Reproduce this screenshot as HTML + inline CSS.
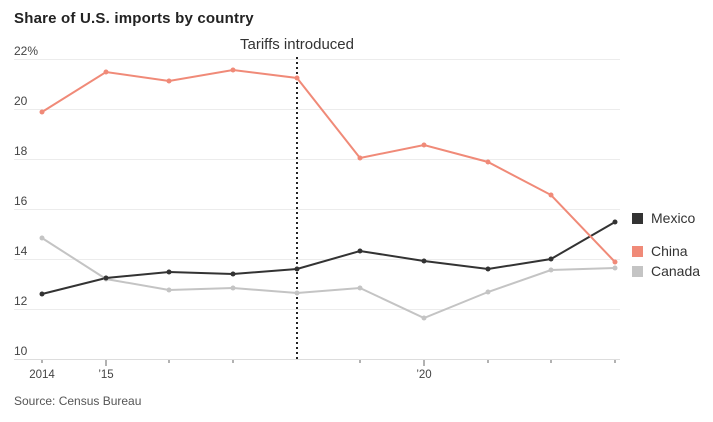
<!DOCTYPE html>
<html><head><style>
body{margin:0;background:#fff;}
svg text{font-family:"Liberation Sans",sans-serif;}
</style></head><body>
<svg width="713" height="417" xmlns="http://www.w3.org/2000/svg">
<text x="14" y="23" font-size="15" font-weight="bold" fill="#222" letter-spacing="0.2">Share of U.S. imports by country</text>
<g stroke="#ececec" stroke-width="1">
<line x1="14" x2="620" y1="59.5" y2="59.5"/>
<line x1="14" x2="620" y1="109.5" y2="109.5"/>
<line x1="14" x2="620" y1="159.5" y2="159.5"/>
<line x1="14" x2="620" y1="209.5" y2="209.5"/>
<line x1="14" x2="620" y1="259.5" y2="259.5"/>
<line x1="14" x2="620" y1="309.5" y2="309.5"/>
</g>
<line x1="14" x2="620" y1="359.5" y2="359.5" stroke="#ddd"/>
<g font-size="12" fill="#444">
<text x="14" y="55">22%</text>
<text x="14" y="105">20</text>
<text x="14" y="155">18</text>
<text x="14" y="205">16</text>
<text x="14" y="255">14</text>
<text x="14" y="305">12</text>
<text x="14" y="355">10</text>
</g>
<g stroke="#666" stroke-width="1">
<line x1="42" x2="42" y1="360" y2="363"/><line x1="106" x2="106" y1="360" y2="366"/>
<line x1="169" x2="169" y1="360" y2="363"/><line x1="233" x2="233" y1="360" y2="363"/>
<line x1="360" x2="360" y1="360" y2="363"/><line x1="424" x2="424" y1="360" y2="366"/>
<line x1="488" x2="488" y1="360" y2="363"/><line x1="551" x2="551" y1="360" y2="363"/>
<line x1="615" x2="615" y1="360" y2="363"/>
</g>
<g font-size="11.5" fill="#444" text-anchor="middle">
<text x="42" y="378">2014</text><text x="106" y="378">’15</text><text x="424" y="378">’20</text>
</g>
<text x="14" y="405" font-size="12" fill="#555">Source: Census Bureau</text>
<line x1="297" x2="297" y1="57" y2="360" stroke="#222" stroke-width="2" stroke-dasharray="2,3"/>
<text x="297" y="49" font-size="15" fill="#333" text-anchor="middle">Tariffs introduced</text>
<polyline fill="none" stroke="#c4c4c4" stroke-width="2" points="42,238 106,279 169,290 233,288 297,293 360,288 424,318 488,292 551,270 615,268"/>
<polyline fill="none" stroke="#333" stroke-width="2" points="42,294 106,278 169,272 233,274 297,269 360,251 424,261 488,269 551,259 615,222"/>
<polyline fill="none" stroke="#f08a78" stroke-width="2" points="42,112 106,72 169,81 233,70 297,78 360,158 424,145 488,162 551,195 615,262"/>
<g fill="#c4c4c4"><circle cx="42" cy="238" r="2.5"/><circle cx="106" cy="279" r="2.5"/><circle cx="169" cy="290" r="2.5"/><circle cx="233" cy="288" r="2.5"/><circle cx="297" cy="293" r="2.5"/><circle cx="360" cy="288" r="2.5"/><circle cx="424" cy="318" r="2.5"/><circle cx="488" cy="292" r="2.5"/><circle cx="551" cy="270" r="2.5"/><circle cx="615" cy="268" r="2.5"/></g>
<g fill="#333"><circle cx="42" cy="294" r="2.5"/><circle cx="106" cy="278" r="2.5"/><circle cx="169" cy="272" r="2.5"/><circle cx="233" cy="274" r="2.5"/><circle cx="297" cy="269" r="2.5"/><circle cx="360" cy="251" r="2.5"/><circle cx="424" cy="261" r="2.5"/><circle cx="488" cy="269" r="2.5"/><circle cx="551" cy="259" r="2.5"/><circle cx="615" cy="222" r="2.5"/></g>
<g fill="#f08a78"><circle cx="42" cy="112" r="2.5"/><circle cx="106" cy="72" r="2.5"/><circle cx="169" cy="81" r="2.5"/><circle cx="233" cy="70" r="2.5"/><circle cx="297" cy="78" r="2.5"/><circle cx="360" cy="158" r="2.5"/><circle cx="424" cy="145" r="2.5"/><circle cx="488" cy="162" r="2.5"/><circle cx="551" cy="195" r="2.5"/><circle cx="615" cy="262" r="2.5"/></g>
<rect x="632" y="213" width="11" height="11" fill="#333"/>
<text x="651" y="223" font-size="14" fill="#333">Mexico</text>
<rect x="632" y="246" width="11" height="11" fill="#f08a78"/>
<text x="651" y="256" font-size="14" fill="#333">China</text>
<rect x="632" y="266" width="11" height="11" fill="#c4c4c4"/>
<text x="651" y="276" font-size="14" fill="#333">Canada</text>
</svg>
</body></html>
